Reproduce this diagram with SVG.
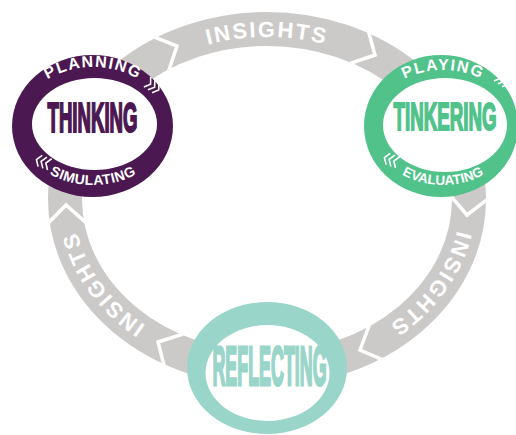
<svg xmlns="http://www.w3.org/2000/svg" xmlns:xlink="http://www.w3.org/1999/xlink" width="516" height="435" viewBox="0 0 516 435">
<defs>
<style>
.ring{fill:none;stroke:#cccac9;stroke-width:34}
.sep{fill:none;stroke:#ffffff;stroke-width:3.5;stroke-linejoin:miter}
.ins{font-family:"Liberation Sans",Arial,sans-serif;font-weight:bold;font-size:22px;fill:#ffffff;letter-spacing:2px}
.big{font-family:"Liberation Sans",Arial,sans-serif;font-weight:bold;text-anchor:middle}
.sub{font-family:"Liberation Sans",Arial,sans-serif;font-weight:bold;fill:#ffffff}
.chev{fill:none;stroke:#ffffff;stroke-width:1.6}
</style>
<path id="ringPath" d="M 73,199 A 194 162 0 1 1 461,199 A 194 162 0 1 1 73,199"/>
<path id="sepShape" d="M -18,-19 L 0,0 L -18,19"/>
<g id="chev3">
<polyline class="chev" points="-7,-6 -3,0 -7,6"/>
<polyline class="chev" points="-2,-6 2,0 -2,6"/>
<polyline class="chev" points="3,-6 7,0 3,6"/>
</g>
<path id="thinkTop" d="M 18,128 A 75 61 0 0 1 168,128"/>
<path id="thinkBot" d="M 18,125 A 75 60 0 0 0 168,125"/>
<path id="tinkTop" d="M 371,128 A 72 58 0 0 1 515,128"/>
<path id="tinkBot" d="M 371,125 A 72 60 0 0 0 515,125"/>
</defs>

<g id="connectors">
<ellipse class="ring" cx="267" cy="199" rx="202" ry="170"/>
<use xlink:href="#sepShape" class="sep" transform="translate(177,46) rotate(-25)"/>
<use xlink:href="#sepShape" class="sep" transform="translate(375,55) rotate(28)"/>
<use xlink:href="#sepShape" class="sep" transform="translate(467,215) rotate(96)"/>
<use xlink:href="#sepShape" class="sep" transform="translate(360,350) rotate(157)"/>
<use xlink:href="#sepShape" class="sep" transform="translate(158,342) rotate(209)"/>
<use xlink:href="#sepShape" class="sep" transform="translate(66,205) rotate(-92)"/>
<text class="ins" text-anchor="middle"><textPath xlink:href="#ringPath" startOffset="25%">INSIGHTS</textPath></text>
<text class="ins" text-anchor="middle"><textPath xlink:href="#ringPath" startOffset="58.2%">INSIGHTS</textPath></text>
<text class="ins" text-anchor="middle"><textPath xlink:href="#ringPath" startOffset="91.8%">INSIGHTS</textPath></text>
</g>

<g id="thinking">
<ellipse cx="92.5" cy="126" rx="80.5" ry="71" fill="#4b1852"/>
<ellipse cx="94.5" cy="124" rx="62.5" ry="46" fill="#ffffff"/>
<text class="big" transform="translate(92.5,132) scale(0.443,1)" font-size="42" fill="#4b1852" stroke="#4b1852" stroke-width="2.2">THINKING</text>
<text class="sub" font-size="16" letter-spacing="1.5" text-anchor="middle"><textPath xlink:href="#thinkTop" startOffset="50%">PLANNING</textPath></text>
<text class="sub" font-size="14" letter-spacing="0.5" text-anchor="middle"><textPath xlink:href="#thinkBot" startOffset="50%">SIMULATING</textPath></text>
<use xlink:href="#chev3" transform="translate(153,86) rotate(35)"/>
<use xlink:href="#chev3" transform="translate(43,162) rotate(200)"/>
</g>

<g id="tinkering">
<ellipse cx="441" cy="126" rx="77" ry="71" fill="#50c28a"/>
<ellipse cx="445" cy="125" rx="62" ry="47" fill="#ffffff"/>
<text class="big" transform="translate(445,130) scale(0.48,1)" font-size="39" fill="#50c28a" stroke="#50c28a" stroke-width="2">TINKERING</text>
<text class="sub" font-size="16" letter-spacing="1.5" text-anchor="middle"><textPath xlink:href="#tinkTop" startOffset="50%">PLAYING</textPath></text>
<text class="sub" font-size="13.5" text-anchor="middle"><textPath xlink:href="#tinkBot" startOffset="50%">EVALUATING</textPath></text>
<use xlink:href="#chev3" transform="translate(503,80) rotate(35)"/>
<use xlink:href="#chev3" transform="translate(391,160) rotate(200)"/>
</g>

<g id="reflecting">
<ellipse cx="267" cy="368" rx="80" ry="66" fill="#9ad5ca"/>
<ellipse cx="267.5" cy="373" rx="62" ry="48" fill="#ffffff"/>
<text class="big" transform="translate(269.5,385) scale(0.319,1)" font-size="56" fill="#9ad5ca" stroke="#9ad5ca" stroke-width="3">REFLECTING</text>
</g>
</svg>
